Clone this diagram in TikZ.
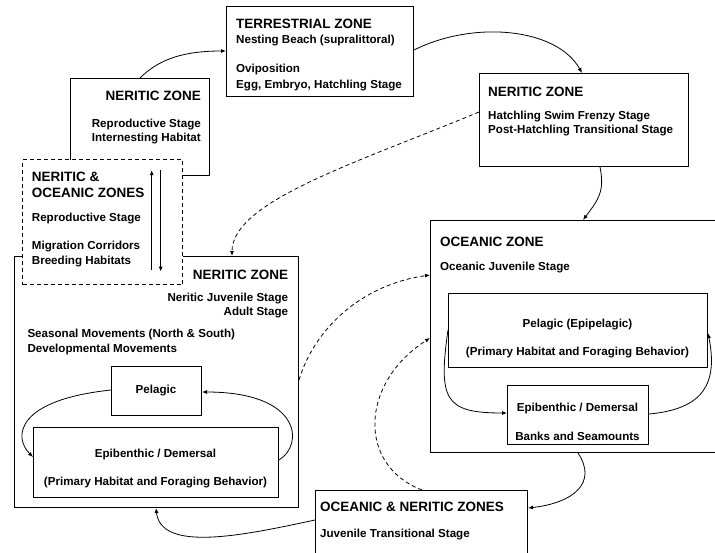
\documentclass[tikz,border=0pt]{standalone}
\usepackage{fontspec}
\setmainfont{Liberation Sans}
\usetikzlibrary{calc,arrows.meta}
\begin{document}
\begin{tikzpicture}[x=1pt,y=1pt,
  zbox/.style={draw=black,line width=1pt,fill=white,inner sep=0pt,anchor=north west},
  dbox/.style={zbox,dash pattern=on 4pt off 3pt},
  bt/.style={font=\fontsize{11.6}{14}\selectfont\bfseries,inner sep=0pt},
  hd/.style={font=\fontsize{13.5}{15}\selectfont\bfseries,inner sep=0pt},
  conn/.style={line width=0.8pt,-{Latex[length=5pt,width=4pt]}},
  dconn/.style={conn,dash pattern=on 4pt off 3pt},
  varr/.style={line width=1pt,-{Latex[length=5pt,width=4pt]}}
]
\useasboundingbox (0,0) rectangle (715,-552);
\clip (0,0) rectangle (715,-552);
% boxes
\node[zbox,minimum width=187pt,minimum height=90pt] (terr) at (226,-6) {};
\node[zbox,minimum width=139pt,minimum height=97pt] (nerTL) at (70,-78) {};
\node[zbox,minimum width=209pt,minimum height=93pt] (nerTR) at (479,-73) {};
\node[zbox,minimum width=290pt,minimum height=232pt] (ocean) at (430,-220) {};
\node[zbox,minimum width=259pt,minimum height=74pt] (pelE) at (448,-293) {};
\node[zbox,minimum width=141pt,minimum height=59pt] (epiO) at (507,-385) {};
\node[zbox,minimum width=284pt,minimum height=251pt] (nerBig) at (14,-256) {};
\node[dbox,minimum width=160pt,minimum height=125pt] (dash) at (22,-159) {};
\node[zbox,minimum width=90pt,minimum height=49pt] (pel) at (111,-366) {};
\node[zbox,minimum width=245pt,minimum height=70pt] (epiN) at (33,-427) {};
\node[zbox,minimum width=212pt,minimum height=70pt] (on) at (315,-490) {};
% texts: terrestrial
\node[hd,anchor=base west] (t1) at (236,-28.7) {TERRESTRIAL ZONE};
\node[bt,anchor=base west] (t2) at (236,-43.5) {Nesting Beach (supralittoral)};
\node[bt,anchor=base west] (t3) at (236,-72.5) {Oviposition};
\node[bt,anchor=base west] (t4) at (236,-88.5) {Egg, Embryo, Hatchling Stage};
% neritic TL
\node[hd,anchor=base east] (a1) at (201,-100) {NERITIC ZONE};
\node[bt,anchor=base east] (a2) at (201,-127.5) {Reproductive Stage};
\node[bt,anchor=base east] (a3) at (201,-141.7) {Internesting Habitat};
% dashed box
\node[hd,anchor=base west] (b1) at (31.7,-181.7) {NERITIC \&};
\node[hd,anchor=base west] (b2) at (31.7,-197.7) {OCEANIC ZONES};
\node[bt,anchor=base west] (b3) at (31.7,-221.7) {Reproductive Stage};
\node[bt,anchor=base west] (b4) at (31.7,-249.3) {Migration Corridors};
\node[bt,anchor=base west] (b5) at (31.7,-264.3) {Breeding Habitats};
% neritic TR
\node[hd,anchor=base west] (c1) at (488,-96) {NERITIC ZONE};
\node[bt,anchor=base west] (c2) at (488,-119) {Hatchling Swim Frenzy Stage};
\node[bt,anchor=base west] (c3) at (488,-133.5) {Post-Hatchling Transitional Stage};
% oceanic
\node[hd,anchor=base west] (d1) at (440,-246) {OCEANIC ZONE};
\node[bt,anchor=base west] (d2) at (440,-270) {Oceanic Juvenile Stage};
\node[bt,anchor=base] (d3) at (577.5,-327) {Pelagic (Epipelagic)};
\node[bt,anchor=base] (d4) at (577.5,-355) {(Primary Habitat and Foraging Behavior)};
\node[bt,anchor=base] (d5) at (577.5,-411.7) {Epibenthic / Demersal};
\node[bt,anchor=base] (d6) at (577.5,-440) {Banks and Seamounts};
% neritic big
\node[hd,anchor=base east] (e1) at (288.3,-279.3) {NERITIC ZONE};
\node[bt,anchor=base east] (e2) at (288.3,-301.7) {Neritic Juvenile Stage};
\node[bt,anchor=base east] (e3) at (288.3,-315.7) {Adult Stage};
\node[bt,anchor=base west] (e4) at (27.3,-337.3) {Seasonal Movements (North \& South)};
\node[bt,anchor=base west] (e5) at (27.3,-352.3) {Developmental Movements};
\node[bt,anchor=base] (e6) at (156,-393.3) {Pelagic};
\node[bt,anchor=base] (e7) at (155.5,-457.5) {Epibenthic / Demersal};
\node[bt,anchor=base] (e8) at (155.5,-485.5) {(Primary Habitat and Foraging Behavior)};
% oceanic & neritic
\node[hd,anchor=base west] (f1) at (320,-511.5) {OCEANIC \& NERITIC ZONES};
\node[bt,anchor=base west] (f2) at (320,-537) {Juvenile Transitional Stage};
% vertical arrows in dashed box
\coordinate (u1) at (151.7,-270);
\coordinate (u2) at (151.7,-170);
\coordinate (w1) at (160.7,-170);
\coordinate (w2) at (160.7,-271.7);
\draw[varr] (u1) -- (u2);
\draw[varr] (w1) -- (w2);
% connectors
\draw[conn] ($(nerTL.north west)+(70,0)$) .. controls +(20,20) and +(-40,0) .. ($(terr.north west)+(0,-45)$);
\draw[conn] ($(terr.north east)+(0,-44)$) .. controls +(60,30) and +(-25,45) .. ($(nerTR.north west)+(103,0)$);
\draw[conn] ($(nerTR.south west)+(121,0)$) .. controls +(5,-25) and +(15,20) .. ($(ocean.north west)+(153,0)$);
\draw[dconn] ($(nerTR.north west)+(0,-39)$) .. controls +(-120,-50) and +(0,55) .. ($(nerBig.north west)+(218,0)$);
\draw[dconn] ($(nerBig.north east)+(0,-124)$) .. controls +(15,50) and +(-70,-10) .. ($(ocean.north west)+(0,-55)$);
\draw[dconn] ($(on.north west)+(107,0)$) .. controls +(-65,25) and +(-70,-45) .. ($(ocean.north west)+(0,-118)$);
\draw[conn] ($(ocean.south west)+(148,0)$) .. controls +(20,-30) and +(45,5) .. ($(on.north east)+(0,-18)$);
\draw[conn] ($(on.north west)+(0,-30)$) .. controls +(-70,-15) and +(5,-45) .. ($(nerBig.south west)+(142,0)$);
\draw[conn] ($(pel.north west)+(0,-24)$) .. controls +(-95,-10) and +(-20,20) .. ($(epiN.north west)+(0,-30)$);
\draw[conn] ($(epiN.north east)+(0,-33)$) .. controls +(25,15) and +(100,0) .. ($(pel.north east)+(0,-26)$);
\draw[conn] ($(pelE.north west)+(0,-37)$) .. controls +(-10,-70) and +(-62,0) .. ($(epiO.north west)+(0,-28)$);
\draw[conn] ($(epiO.north east)+(0,-29)$) .. controls +(55,5) and +(10,-50) .. ($(pelE.north east)+(0,-40)$);
\end{tikzpicture}
\end{document}
